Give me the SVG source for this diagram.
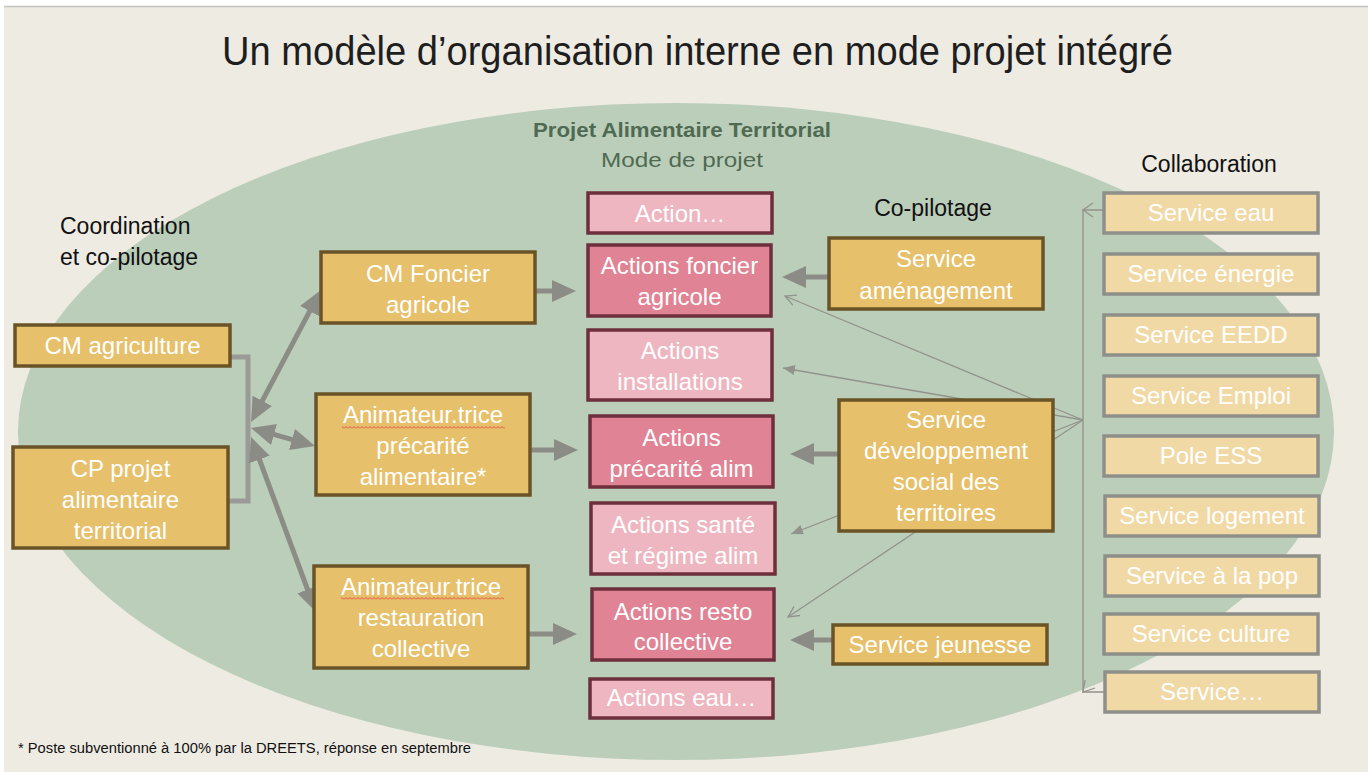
<svg xmlns="http://www.w3.org/2000/svg" width="1368" height="772" viewBox="0 0 1368 772">
<style>
text{font-family:"Liberation Sans",Arial,sans-serif}
.gold rect{fill:#E6C06B;stroke:#6A5427;stroke-width:3.5}
.dpink rect{fill:#E08394;stroke:#6E2F3C;stroke-width:3.5}
.lpink rect{fill:#EEB6C0;stroke:#6E2F3C;stroke-width:3.5}
.svc rect{fill:#F1D9A6;stroke:#8F8F8A;stroke-width:3.5}
.node text{fill:#FFFFFF;font-size:24px;text-anchor:middle}
.lbl{fill:#111111;font-size:23px}
.thick{stroke:#8C8C87;stroke-width:5;fill:none}
.thin{stroke:#91938C;stroke-width:1.3;fill:none}
</style>
<defs>
<marker id="ah" viewBox="0 0 24 22" refX="4" refY="11" markerWidth="24" markerHeight="22" markerUnits="userSpaceOnUse" orient="auto-start-reverse">
<path d="M0,0 L24,11 L0,22 z" fill="#8C8C87"/>
</marker>
<marker id="oa" viewBox="0 0 12 12" refX="11" refY="6" markerWidth="12" markerHeight="12" markerUnits="userSpaceOnUse" orient="auto">
<path d="M0,0.5 L11,6 L0,11.5" fill="none" stroke="#91938C" stroke-width="1.3"/>
</marker>
<marker id="fa" viewBox="0 0 12 10" refX="12" refY="5" markerWidth="12" markerHeight="10" markerUnits="userSpaceOnUse" orient="auto">
<path d="M0,0 L12,5 L0,10 z" fill="#91938C"/>
</marker>
<pattern id="wave" x="0" y="0" width="4" height="3" patternUnits="userSpaceOnUse">
<path d="M0,2.5 L2,0.5 L4,2.5" fill="none" stroke="#E04040" stroke-width="0.9"/>
</pattern>
</defs>

<rect x="0" y="0" width="1368" height="772" fill="#FFFFFF"/>
<rect x="4" y="6" width="1364" height="766" fill="#EEEBE3"/>
<line x1="4" y1="6.5" x2="1368" y2="6.5" stroke="#C4C4C0" stroke-width="1.5"/>

<ellipse cx="676" cy="431.5" rx="658" ry="328.5" fill="#BBCEBA"/>

<text x="222" y="65" font-size="40" fill="#1E1E1E" textLength="951" lengthAdjust="spacingAndGlyphs">Un modèle d’organisation interne en mode projet intégré</text>
<text x="682" y="137" font-size="21" font-weight="bold" fill="#4F6A52" text-anchor="middle" textLength="298" lengthAdjust="spacingAndGlyphs">Projet Alimentaire Territorial</text>
<text x="682" y="167" font-size="21" fill="#4F6A52" text-anchor="middle" textLength="162" lengthAdjust="spacingAndGlyphs">Mode de projet</text>
<text class="lbl" x="60" y="234">Coordination</text>
<text class="lbl" x="60" y="265">et co-pilotage</text>
<text class="lbl" x="933" y="216" text-anchor="middle">Co-pilotage</text>
<text class="lbl" x="1209" y="172" text-anchor="middle">Collaboration</text>
<text x="18" y="753" font-size="14" fill="#111111" textLength="453" lengthAdjust="spacingAndGlyphs">* Poste subventionné à 100% par la DREETS, réponse en septembre</text>

<g id="connectors">
<polyline class="thick" points="230,357 248,357 248,501 228,501" stroke-width="4" style="stroke:#9A9A96"/>
<line class="thick" x1="260.4" y1="404.3" x2="311.6" y2="307.7" marker-start="url(#ah)" marker-end="url(#ah)"/>
<line class="thick" x1="270.2" y1="433.4" x2="295.8" y2="440.6" marker-start="url(#ah)" marker-end="url(#ah)"/>
<line class="thick" x1="258" y1="455.7" x2="309" y2="593.3" marker-start="url(#ah)" marker-end="url(#ah)"/>
<line class="thick" x1="535" y1="291" x2="556" y2="291" marker-end="url(#ah)"/>
<line class="thick" x1="530" y1="450" x2="558" y2="450" marker-end="url(#ah)"/>
<line class="thick" x1="528" y1="634" x2="557" y2="634" marker-end="url(#ah)"/>
<line class="thick" x1="829" y1="277" x2="802" y2="277" marker-end="url(#ah)"/>
<line class="thick" x1="839" y1="454" x2="810" y2="454" marker-end="url(#ah)"/>
<line class="thick" x1="833" y1="640" x2="810" y2="640" marker-end="url(#ah)"/>
<line class="thin" x1="1083" y1="420" x2="785" y2="296" marker-end="url(#oa)"/>
<line class="thin" x1="1083" y1="420" x2="783" y2="368" marker-end="url(#fa)"/>
<line class="thin" x1="1083" y1="420" x2="791" y2="534" marker-end="url(#fa)"/>
<line class="thin" x1="1083" y1="420" x2="788" y2="617" marker-end="url(#oa)"/>
<path class="thin" d="M1104,210 H1083 V692 H1104"/>
<path class="thin" d="M1093,203 L1083,210 L1093,217"/>
<path class="thin" d="M1085,680 L1083,692 L1095,688"/>
</g>

<g id="n-cm-agriculture" class="node gold"><rect x="15" y="325" width="215" height="41"/><text x="122.5" y="354">CM agriculture</text></g>
<g id="n-cp-projet" class="node gold"><rect x="13" y="447" width="215" height="101"/><text x="120.5" y="477">CP projet</text><text x="120.5" y="508">alimentaire</text><text x="120.5" y="539">territorial</text></g>
<g id="n-cm-foncier" class="node gold"><rect x="321" y="252" width="214" height="71"/><text x="428" y="282">CM Foncier</text><text x="428" y="313">agricole</text></g>
<g id="n-anim-precarite" class="node gold"><rect x="316" y="394" width="214" height="101"/><text x="423" y="423">Animateur.trice</text><text x="423" y="454">précarité</text><text x="423" y="485">alimentaire*</text><rect x="342" y="426" width="163" height="3" style="fill:url(#wave);stroke:none"/></g>
<g id="n-anim-resto" class="node gold"><rect x="314" y="566" width="214" height="102"/><text x="421" y="595">Animateur.trice</text><text x="421" y="626">restauration</text><text x="421" y="657">collective</text><rect x="341" y="597" width="163" height="3" style="fill:url(#wave);stroke:none"/></g>

<g id="n-action" class="node lpink"><rect x="588" y="193" width="184" height="40"/><text x="680" y="222">Action…</text></g>
<g id="n-actions-foncier" class="node dpink"><rect x="588" y="245" width="183" height="71"/><text x="679.5" y="274">Actions foncier</text><text x="679.5" y="305">agricole</text></g>
<g id="n-actions-install" class="node lpink"><rect x="588" y="330" width="184" height="70"/><text x="680" y="359">Actions</text><text x="680" y="390">installations</text></g>
<g id="n-actions-precarite" class="node dpink"><rect x="590" y="416" width="183" height="71"/><text x="681.5" y="446">Actions</text><text x="681.5" y="477">précarité alim</text></g>
<g id="n-actions-sante" class="node lpink"><rect x="591" y="503" width="184" height="71"/><text x="683" y="533">Actions santé</text><text x="683" y="564">et régime alim</text></g>
<g id="n-actions-resto" class="node dpink"><rect x="592" y="589" width="182" height="71"/><text x="683" y="620">Actions resto</text><text x="683" y="650">collective</text></g>
<g id="n-actions-eau" class="node lpink"><rect x="590" y="679" width="183" height="39"/><text x="681.5" y="706">Actions eau…</text></g>

<g id="n-svc-amenagement" class="node gold"><rect x="829" y="238" width="214" height="71"/><text x="936" y="267">Service</text><text x="936" y="299">aménagement</text></g>
<g id="n-svc-dev-social" class="node gold"><rect x="839" y="400" width="214" height="131"/><text x="946" y="428">Service</text><text x="946" y="459">développement</text><text x="946" y="490">social des</text><text x="946" y="521">territoires</text></g>
<g id="n-svc-jeunesse" class="node gold"><rect x="833" y="625" width="214" height="39"/><text x="940" y="653">Service jeunesse</text></g>

<g id="n-svc-eau" class="node svc"><rect x="1104" y="193" width="214" height="40"/><text x="1211" y="221">Service eau</text></g>
<g id="n-svc-energie" class="node svc"><rect x="1104" y="254" width="214" height="40"/><text x="1211" y="282">Service énergie</text></g>
<g id="n-svc-eedd" class="node svc"><rect x="1104" y="315" width="214" height="40"/><text x="1211" y="343">Service EEDD</text></g>
<g id="n-svc-emploi" class="node svc"><rect x="1104" y="376" width="214" height="40"/><text x="1211" y="404">Service Emploi</text></g>
<g id="n-pole-ess" class="node svc"><rect x="1104" y="436" width="214" height="40"/><text x="1211" y="464">Pole ESS</text></g>
<g id="n-svc-logement" class="node svc"><rect x="1105" y="496" width="214" height="40"/><text x="1212" y="524">Service logement</text></g>
<g id="n-svc-pop" class="node svc"><rect x="1105" y="556" width="214" height="40"/><text x="1212" y="584">Service à la pop</text></g>
<g id="n-svc-culture" class="node svc"><rect x="1104" y="614" width="214" height="40"/><text x="1211" y="642">Service culture</text></g>
<g id="n-svc-etc" class="node svc"><rect x="1105" y="672" width="214" height="40"/><text x="1212" y="700">Service…</text></g>
</svg>
